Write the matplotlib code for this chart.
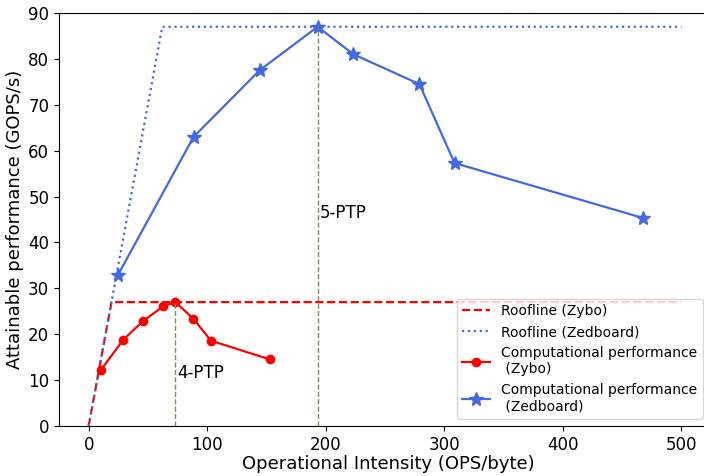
#!/usr/bin/env python3
"""Roofline model: Zybo vs Zedboard."""

import matplotlib

matplotlib.use("Agg")
import matplotlib.pyplot as plt

# roofline corners (OPS/byte, GOPS/s)
roof_zybo_x = [0, 19.3, 500]
roof_zybo_y = [0, 27, 27]
roof_zed_x = [0, 62.1, 500]
roof_zed_y = [0, 87, 87]

# measured points
zybo_x = [10.1, 29.2, 46.1, 63.0, 73.1, 88.3, 103.1, 152.9]
zybo_y = [12.1, 18.8, 22.9, 26.1, 27.0, 23.4, 18.6, 14.5]
zed_x = [24.5, 88.5, 144.2, 193.1, 223.4, 279.0, 308.6, 468.0]
zed_y = [32.8, 63.0, 77.5, 87.0, 81.0, 74.5, 57.3, 45.3]

# optimal points
ptp_labels = ["4-PTP", "5-PTP"]
ptp_x = [73.1, 193.1]
ptp_y = [27.0, 87.0]
ptp_text_y = [11.5, 46.5]


def main() -> None:
    fig = plt.figure(figsize=(7.04, 4.76), dpi=100)
    # right spine falls just outside the canvas, as in the source
    ax = fig.add_axes([59 / 704, 50 / 476, (717 - 59) / 704, (426 - 13) / 476])

    ax.plot(roof_zybo_x, roof_zybo_y, color="red", linestyle="--", linewidth=1.6, label="Roofline (Zybo)")
    ax.plot(roof_zed_x, roof_zed_y, color="royalblue", linestyle=":", linewidth=1.6,
            label="Roofline (Zedboard)")
    ax.plot(zybo_x, zybo_y, color="red", marker="o", markersize=6, linewidth=1.6,
            label="Computational performance\n (Zybo)")
    ax.plot(zed_x, zed_y, color="royalblue", marker="*", markersize=10, linewidth=1.6,
            label="Computational performance\n (Zedboard)")

    for lab, x, y, ty in zip(ptp_labels, ptp_x, ptp_y, ptp_text_y):
        ax.vlines(x, 0, y, colors="#7f8c5f", linestyles="--", linewidth=1.0)
        ax.text(x + 2, ty, lab, fontsize=12, ha="left", va="center")

    ax.set_xlim(-25, 530)
    ax.set_ylim(0, 90)
    ax.set_xticks([0, 100, 200, 300, 400, 500])
    ax.set_yticks(range(0, 91, 10))
    ax.tick_params(labelsize=12)
    ax.set_xlabel("Operational Intensity (OPS/byte)", fontsize=13, labelpad=1)
    ax.set_ylabel("Attainable performance (GOPS/s)", fontsize=13, labelpad=3)
    ax.legend(
        loc="lower right",
        fontsize=10,
        bbox_to_anchor=(703 / 704, 57 / 476),
        bbox_transform=fig.transFigure,
        borderaxespad=0,
    )

    fig.savefig("out.png", dpi=100)
    plt.close(fig)


if __name__ == "__main__":
    main()
